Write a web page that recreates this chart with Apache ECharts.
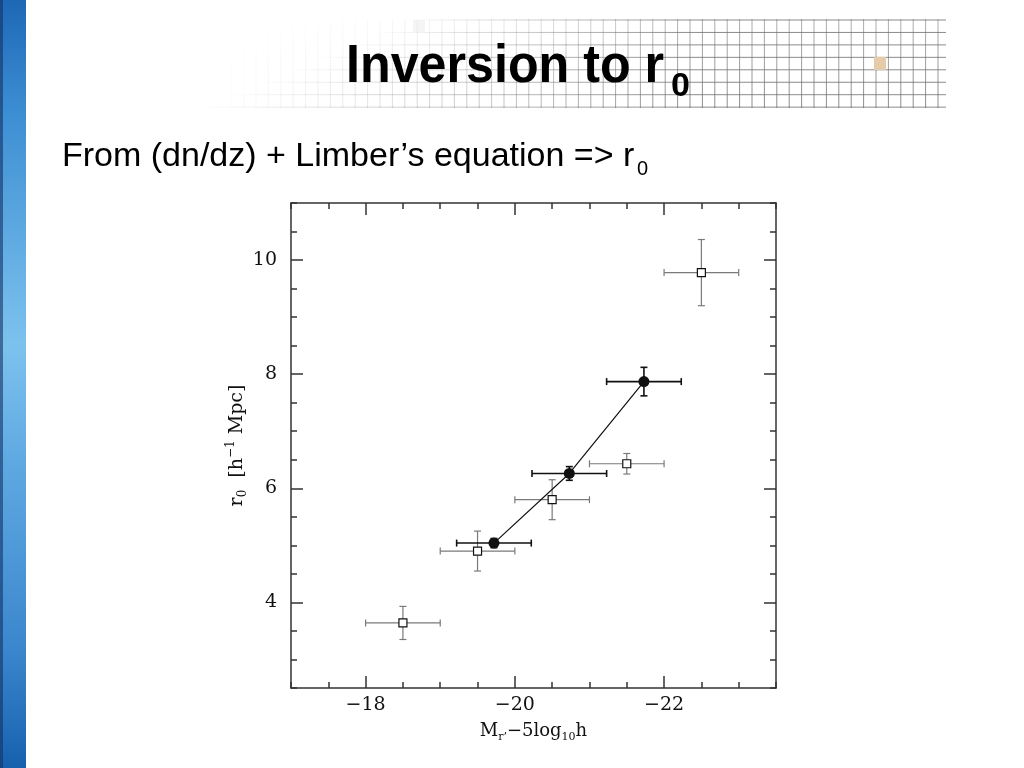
<!DOCTYPE html>
<html>
<head>
<meta charset="utf-8">
<script src="https://cdn.jsdelivr.net/npm/echarts@6/dist/echarts.min.js"></script>
<style>
html,body{margin:0;padding:0;background:#fff;}
#chart{width:1024px;height:768px;}
</style>
</head>
<body>
<div id="chart"></div>
<script>
// ---- data ----
const xMajorTicks = [-18, -20, -22];
const yMajorTicks = [4, 6, 8, 10];
// open squares (grey error bars)
const sqMag = [-18.5, -19.5, -20.5, -21.5, -22.5];
const sqR0 = [3.64, 4.90, 5.80, 6.43, 9.78];
const sqMagErr = [0.5, 0.5, 0.5, 0.5, 0.5];
const sqR0Err = [0.29, 0.35, 0.35, 0.18, 0.58];
// filled circles (black, joined by a line)
const dotMag = [-19.72, -20.73, -21.73];
const dotR0 = [5.04, 6.26, 7.87];
const dotMagErr = [0.5, 0.5, 0.5];
const dotR0Err = [0.08, 0.12, 0.25];

const sqData = sqMag.map((m, i) => [m, sqR0[i], sqMagErr[i], sqR0Err[i]]);
const dotErrData = dotMag.map((m, i) => [m, dotR0[i], dotMagErr[i], dotR0Err[i]]);
const dotLineData = dotMag.map((m, i) => [m, dotR0[i]]);

const SERIF = '"DejaVu Serif","Liberation Serif",serif';
const SANS = '"Liberation Sans",Arial,sans-serif';

function errRender(color, lw, cap, square) {
  return function (params, api) {
    const x = api.value(0), y = api.value(1), ex = api.value(2), ey = api.value(3);
    const c = api.coord([x, y]);
    const a = api.coord([x - ex, y]);
    const b = api.coord([x + ex, y]);
    const t = api.coord([x, y + ey]);
    const d = api.coord([x, y - ey]);
    const st = { stroke: color, lineWidth: lw };
    const kids = [
      { type: 'line', shape: { x1: a[0], y1: a[1], x2: b[0], y2: b[1] }, style: st },
      { type: 'line', shape: { x1: t[0], y1: t[1], x2: d[0], y2: d[1] }, style: st },
      { type: 'line', shape: { x1: a[0], y1: a[1] - cap, x2: a[0], y2: a[1] + cap }, style: st },
      { type: 'line', shape: { x1: b[0], y1: b[1] - cap, x2: b[0], y2: b[1] + cap }, style: st },
      { type: 'line', shape: { x1: t[0] - cap, y1: t[1], x2: t[0] + cap, y2: t[1] }, style: st },
      { type: 'line', shape: { x1: d[0] - cap, y1: d[1], x2: d[0] + cap, y2: d[1] }, style: st }
    ];
    if (square) {
      kids.push({ type: 'rect', shape: { x: c[0] - 4, y: c[1] - 4, width: 8, height: 8 },
        style: { fill: '#fff', stroke: '#111', lineWidth: 1.2 } });
    }
    return { type: 'group', children: kids };
  };
}

// ---- slide decoration ----
const deco = [];
// grid pattern behind the title
const gx0 = 195, gx1 = 940, gy0 = 19, gy1 = 108;
for (let x = 938; x >= gx0; x -= 12.4) {
  let a = Math.min(1, Math.max(0, (x - gx0) / (690 - gx0)));
  a = Math.pow(a, 1.3);
  deco.push({ type: 'line', z: 0, shape: { x1: x, y1: gy0, x2: x, y2: gy1 },
    style: { lineWidth: 1, stroke: { type: 'linear', global: true, x: 0, y: gy0, x2: 0, y2: gy1,
      colorStops: [{ offset: 0, color: 'rgba(110,110,110,' + (0.55 * a * a) + ')' },
                   { offset: 1, color: 'rgba(110,110,110,' + (0.8 * a) + ')' }] } } });
}
for (let k = 0; k < 8; k++) {
  const y = 20 + 12.45 * k;
  const start = gx0 + (7 - k) * 30;
  deco.push({ type: 'line', z: 0, shape: { x1: gx0, y1: y, x2: 946, y2: y },
    style: { lineWidth: 1, stroke: { type: 'linear', global: true, x: start, y: 0, x2: 700, y2: 0,
      colorStops: [{ offset: 0, color: 'rgba(110,110,110,0)' },
                   { offset: 1, color: 'rgba(110,110,110,0.8)' }] } } });
}
deco.push({ type: 'rect', z: 0, shape: { x: 874, y: 57, width: 12, height: 13 }, style: { fill: '#e4ccaa' } });
deco.push({ type: 'rect', z: 0, shape: { x: 413, y: 20, width: 12, height: 12 }, style: { fill: 'rgba(215,215,215,0.25)' } });
// left blue bar
deco.push({ type: 'rect', z: 1, shape: { x: 0, y: 0, width: 26, height: 768 },
  style: { fill: { type: 'linear', x: 0, y: 0, x2: 0, y2: 1, colorStops: [
    { offset: 0, color: '#1d68b5' }, { offset: 0.15, color: '#3d8fd3' },
    { offset: 0.45, color: '#7cc2ee' }, { offset: 0.6, color: '#5fa9e2' },
    { offset: 0.85, color: '#3a86cc' }, { offset: 1, color: '#1561ad' }] } } });
deco.push({ type: 'rect', z: 2, shape: { x: 0, y: 0, width: 3, height: 768 }, style: { fill: 'rgba(20,50,100,0.6)' } });
// title
deco.push({ type: 'text', z: 5, x: 346, y: 94, scaleX: 0.93,
  style: { text: 'Inversion to r', font: 'bold 54px ' + SANS, fill: '#000', verticalAlign: 'bottom' } });
deco.push({ type: 'text', z: 5, x: 671, y: 104,
  style: { text: '0', font: 'bold 34px ' + SANS, fill: '#000', verticalAlign: 'bottom' } });
// subtitle
deco.push({ type: 'text', z: 5, x: 62, y: 140,
  style: { text: 'From (dn/dz) + Limber\u2019s equation => r', font: '34px ' + SANS, fill: '#000', verticalAlign: 'top' } });
deco.push({ type: 'text', z: 5, x: 637, y: 159,
  style: { text: '0', font: '20px ' + SANS, fill: '#000', verticalAlign: 'top' } });

const frame = { lineStyle: { color: '#333', width: 1.5 } };
const fmtX = v => '\u2212' + Math.abs(v);
const gridPos = { left: 291, top: 203, width: 485, height: 485 };

function xAx(pos, major, labels, extra) {
  return Object.assign({
    type: 'value', position: pos, min: -23.5, max: -17, interval: 0.5, inverse: true,
    axisLine: Object.assign({ show: !major }, frame),
    axisTick: major ? { show: true, inside: true, length: 12, customValues: xMajorTicks, lineStyle: { color: '#333', width: 1.5 } }
                    : { show: true, inside: true, length: 6, lineStyle: { color: '#333', width: 1.5 } },
    axisLabel: labels ? { show: true, customValues: xMajorTicks, formatter: fmtX, fontFamily: SERIF, fontSize: 19, color: '#111', margin: 8 }
                      : { show: false },
    splitLine: { show: false }
  }, extra || {});
}
function yAx(pos, major, labels, extra) {
  return Object.assign({
    type: 'value', position: pos, min: 2.5, max: 11, interval: 0.5,
    axisLine: Object.assign({ show: !major }, frame),
    axisTick: major ? { show: true, inside: true, length: 12, customValues: yMajorTicks, lineStyle: { color: '#333', width: 1.5 } }
                    : { show: true, inside: true, length: 6, lineStyle: { color: '#333', width: 1.5 } },
    axisLabel: labels ? { show: true, customValues: yMajorTicks, fontFamily: SERIF, fontSize: 19, color: '#111', margin: 14 }
                      : { show: false },
    splitLine: { show: false }
  }, extra || {});
}

const chart = echarts.init(document.getElementById('chart'), null, { renderer: 'canvas' });
chart.setOption({
  backgroundColor: '#fff',
  animation: false,
  graphic: deco,
  grid: Object.assign({ containLabel: false }, gridPos),
  xAxis: [
    xAx('bottom', false, true, {
      name: '{a|M}{s|r\u2019}{a|\u22125log}{s|10}{a|h}', nameLocation: 'middle', nameGap: 32,
      nameTextStyle: { fontFamily: SERIF, fontSize: 18, color: '#111',
        rich: { a: { fontFamily: SERIF, fontSize: 18, color: '#111' },
                s: { fontFamily: SERIF, fontSize: 11, color: '#111', verticalAlign: 'bottom', padding: [12, 0, 0, 0] } } }
    }),
    xAx('bottom', true, false),
    xAx('top', false, false),
    xAx('top', true, false)
  ],
  yAxis: [
    yAx('left', false, true, {
      name: '{a|r}{s|0}{a|  [h}{p|\u22121}{a| Mpc]}', nameLocation: 'middle', nameGap: 36, nameRotate: 90,
      nameTextStyle: { fontFamily: SERIF, fontSize: 19, color: '#111',
        rich: { a: { fontFamily: SERIF, fontSize: 19, color: '#111' },
                s: { fontFamily: SERIF, fontSize: 12, color: '#111', verticalAlign: 'bottom', padding: [12, 0, 0, 0] },
                p: { fontFamily: SERIF, fontSize: 12, color: '#111', verticalAlign: 'top', padding: [0, 0, 10, 0] } } }
    }),
    yAx('left', true, false),
    yAx('right', false, false),
    yAx('right', true, false)
  ],
  series: [
    { type: 'custom', xAxisIndex: 0, yAxisIndex: 0, z: 3, data: sqData,
      renderItem: errRender('#7a7a7a', 1.2, 3.5, true) },
    { type: 'custom', xAxisIndex: 0, yAxisIndex: 0, z: 4, data: dotErrData,
      renderItem: errRender('#111', 1.6, 3.5, false) },
    { type: 'line', xAxisIndex: 0, yAxisIndex: 0, z: 5, data: dotLineData,
      symbol: 'circle', symbolSize: 11, showSymbol: true,
      lineStyle: { color: '#111', width: 1.2 }, itemStyle: { color: '#111' } }
  ]
});
</script>
</body>
</html>
